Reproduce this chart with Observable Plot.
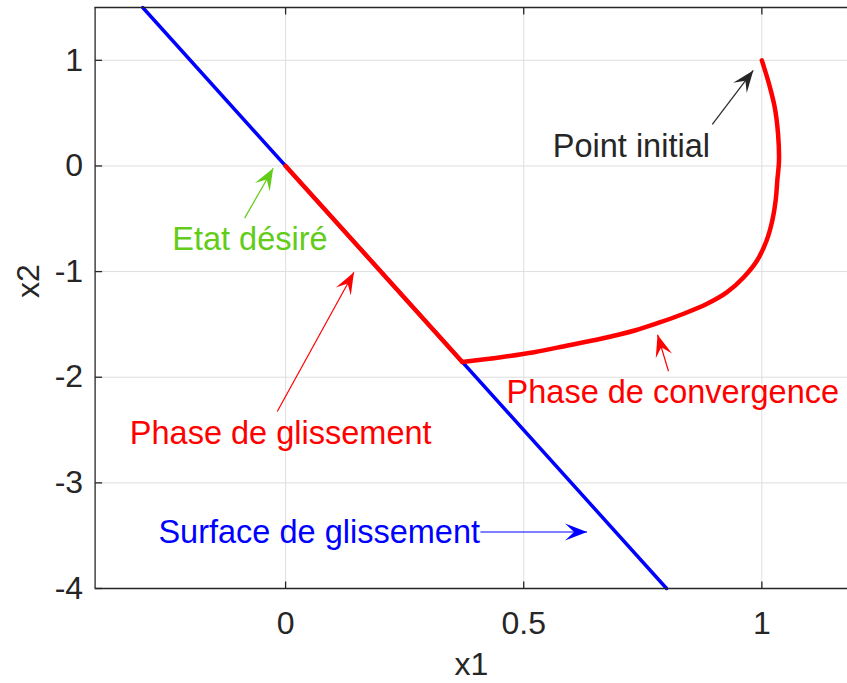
<!DOCTYPE html>
<html><head><meta charset="utf-8">
<script src="https://cdn.jsdelivr.net/npm/d3@7"></script>
<script src="https://cdn.jsdelivr.net/npm/@observablehq/plot@0.6"></script>
<style>html,body{margin:0;padding:0;background:#fff;overflow:hidden}</style>
</head><body><div id="chart"></div>
<script>
// Surface de glissement (x2 = -5 x1)
const surfaceX1 = [-0.3, 0.8];
const surfaceX2 = [1.5, -4];
// Phase de convergence
const convX1 = [1.0, 1.015, 1.027, 1.034, 1.036, 1.0325, 1.029, 1.022, 1.010, 0.990, 0.962, 0.927, 0.885, 0.836, 0.787, 0.735, 0.662, 0.592, 0.522, 0.452, 0.371];
const convX2 = [1.0, 0.778, 0.557, 0.305, 0.052, -0.137, -0.327, -0.516, -0.705, -0.895, -1.053, -1.195, -1.305, -1.399, -1.479, -1.555, -1.636, -1.70, -1.763, -1.81, -1.855];
// Phase de glissement
const slideX1 = [0.371, 0];
const slideX2 = [-1.855, 0];
// axes
const xDomain = [-0.4, 1.2];
const yDomain = [-4, 1.5];
const xTicks = [0, 0.5, 1];
const xTickLabels = ["0", "0.5", "1"];
const yTicks = [-4, -3, -2, -1, 0, 1];
const yTickLabels = ["-4", "-3", "-2", "-1", "0", "1"];
const xLabel = "x1";
const yLabel = "x2";
// annotations
const noteTexts = ["Point initial", "Etat désiré", "Phase de glissement", "Phase de convergence", "Surface de glissement"];
const noteX1 = [0.561, -0.238, -0.327, 0.464, -0.267];
const noteX2 = [0.18, -0.697, -2.534, -2.15, -3.474];
const noteColors = ["#262626", "#62cc19", "#ff0000", "#ff0000", "#0000ff"];
const arrowFromX1 = [0.896, -0.086, -0.0175, 0.804, 0.409];
const arrowFromX2 = [0.393, -0.494, -2.325, -1.943, -3.465];
const arrowToX1 = [0.982, -0.026, 0.1435, 0.781, 0.633];
const arrowToX2 = [0.904, -0.021, -1.006, -1.598, -3.465];

const W = 847, H = 683;
const mL = 94.6, mT = 7, mB = 95;
const xRange = [mL, mL + 476.25 * (xDomain[1] - xDomain[0])];
const yRange = [H - mB, mT];
const sx = d3.scaleLinear(xDomain, xRange);
const sy = d3.scaleLinear(yDomain, yRange);

const axisColor = "#262626";
const font = "Liberation Sans, Arial, Helvetica, sans-serif";

const idx = (a) => a.map((_, i) => i);
const noteIdx = idx(noteTexts);
const angles = noteIdx.map(i => {
  const dx = sx(arrowToX1[i]) - sx(arrowFromX1[i]);
  const dy = sy(arrowToX2[i]) - sy(arrowFromX2[i]);
  return Math.atan2(dx, -dy) * 180 / Math.PI;
});

const arrowHead = {draw(ctx) {
  const L = 22, w = 17, n = 13;
  ctx.moveTo(0, 0);
  ctx.lineTo(-w / 2, L);
  ctx.lineTo(0, n);
  ctx.lineTo(w / 2, L);
  ctx.closePath();
}};
const tickRight = {draw(ctx) { ctx.moveTo(0, 0); ctx.lineTo(7, 0); }};
const tickUp = {draw(ctx) { ctx.moveTo(0, 0); ctx.lineTo(0, -7); }};
const tickDown = {draw(ctx) { ctx.moveTo(0, 0); ctx.lineTo(0, 7); }};

const chart = Plot.plot({
  width: W, height: H,
  marginLeft: mL, marginRight: 0, marginTop: mT, marginBottom: mB,
  style: {fontFamily: font, fontSize: "32px", color: axisColor, background: "white", overflow: "hidden"},
  x: {domain: xDomain, range: xRange},
  y: {domain: yDomain, range: yRange},
  color: {type: "identity"},
  marks: [
    Plot.gridX(xTicks, {stroke: "#dedede", strokeOpacity: 1, strokeWidth: 1}),
    Plot.gridY(yTicks, {stroke: "#dedede", strokeOpacity: 1, strokeWidth: 1}),
    Plot.line(idx(surfaceX1), {x: i => surfaceX1[i], y: i => surfaceX2[i], stroke: "#0000ff", strokeWidth: 3.5}),
    Plot.line(idx(convX1), {x: i => convX1[i], y: i => convX2[i], curve: "catmull-rom", stroke: "#ff0000", strokeWidth: 4.5, strokeLinejoin: "round"}),
    Plot.line(idx(slideX1), {x: i => slideX1[i], y: i => slideX2[i], stroke: "#ff0000", strokeWidth: 4.5, strokeLinecap: "round"}),
    Plot.ruleX([xDomain[0]], {stroke: axisColor, strokeWidth: 1.3}),
    Plot.ruleY(yDomain, {stroke: axisColor, strokeWidth: 1.3}),
    Plot.dot(yTicks, {x: xDomain[0], y: d => d, symbol: tickRight, fill: "none", stroke: axisColor, strokeWidth: 1.3}),
    Plot.dot(xTicks, {x: d => d, y: yDomain[0], symbol: tickUp, fill: "none", stroke: axisColor, strokeWidth: 1.3}),
    Plot.dot(xTicks, {x: d => d, y: yDomain[1], symbol: tickDown, fill: "none", stroke: axisColor, strokeWidth: 1.3}),
    Plot.axisX(xTicks, {anchor: "bottom", tickSize: 0, tickPadding: 22.5, tickFormat: d => xTickLabels[xTicks.indexOf(d)], label: null, fontSize: 32, fill: axisColor}),
    Plot.axisY(yTicks, {anchor: "left", tickSize: 0, tickPadding: 12, tickFormat: d => yTickLabels[yTicks.indexOf(d)], label: null, fontSize: 32, fill: axisColor}),
    Plot.text([xLabel], {frameAnchor: "bottom", dy: 76, text: d => d, fontSize: 32, lineAnchor: "middle", fill: axisColor}),
    Plot.text([yLabel], {frameAnchor: "left", dx: 28 - mL, rotate: -90, text: d => d, fontSize: 32, lineAnchor: "middle", fill: axisColor}),
    Plot.link(noteIdx, {x1: i => arrowFromX1[i], y1: i => arrowFromX2[i], x2: i => arrowToX1[i], y2: i => arrowToX2[i], stroke: i => noteColors[i], strokeWidth: 1.2}),
    Plot.dot(noteIdx, {x: i => arrowToX1[i], y: i => arrowToX2[i], symbol: arrowHead, rotate: i => angles[i], fill: i => noteColors[i], stroke: "none"}),
    Plot.text(noteIdx, {x: i => noteX1[i], y: i => noteX2[i], text: i => noteTexts[i], fill: i => noteColors[i], textAnchor: "start", lineAnchor: "middle", fontSize: 32.5})
  ]
});
document.getElementById("chart").appendChild(chart);
</script>
</body></html>
